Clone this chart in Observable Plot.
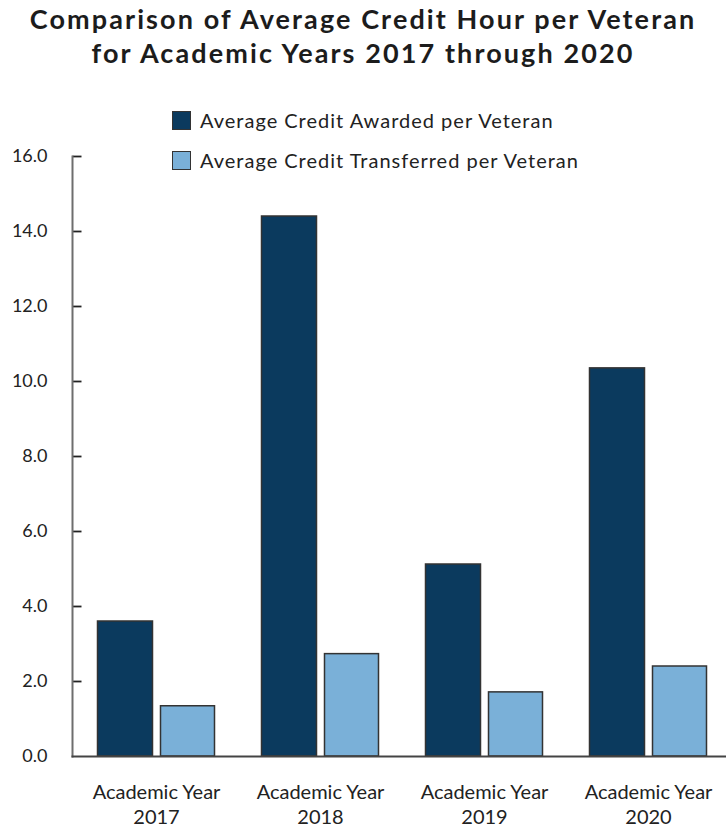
<!DOCTYPE html>
<html>
<head>
<meta charset="utf-8">
<script src="https://cdn.jsdelivr.net/npm/d3@7"></script>
<script src="https://cdn.jsdelivr.net/npm/@observablehq/plot@0.6"></script>
<style>
  html, body { margin: 0; padding: 0; background: #fff; }
  #wrap { position: relative; width: 726px; height: 829px; font-family: Lato, "Open Sans", sans-serif; }
  #title { position: absolute; top: 2px; left: 0; width: 726px; text-align: center; font-weight: bold; font-size: 27px; letter-spacing: 2.1px; line-height: 34px; color: #1c1c1c; }
  #legend { position: absolute; left: 172px; top: 110px; font-size: 20px; letter-spacing: 1px; color: #222; }
  .row { display: flex; align-items: center; height: 20px; margin-bottom: 20px; }
  .sw { width: 17px; height: 17px; border: 1.5px solid #333; margin-right: 9px; }
  #chart { position: absolute; left: 0; top: 80px; }
</style>
</head>
<body>
<div id="wrap">
  <div id="title">Comparison of Average Credit Hour per Veteran<br>for Academic Years 2017 through 2020</div>
  <div id="legend"></div>
  <div id="chart"></div>
</div>
<script>
const years = ["2017", "2018", "2019", "2020"];
const awarded = [3.6, 14.4, 5.12, 10.35];
const transferred = [1.34, 2.73, 1.71, 2.4];
const seriesNames = ["Average Credit Awarded per Veteran", "Average Credit Transferred per Veteran"];
const seriesColors = ["#0b3a5e", "#7ab0d8"];
const yTicks = [0, 2, 4, 6, 8, 10, 12, 14, 16];

const table = years.map((y, i) => ({year: y, awarded: awarded[i], transferred: transferred[i]}));

const legend = document.getElementById("legend");
seriesNames.forEach((n, i) => {
  const r = document.createElement("div");
  r.className = "row";
  const s = document.createElement("div");
  s.className = "sw";
  s.style.background = seriesColors[i];
  const t = document.createElement("span");
  t.textContent = n;
  r.appendChild(s); r.appendChild(t);
  legend.appendChild(r);
});

const chart = Plot.plot({
  width: 726,
  height: 749,
  marginTop: 76,
  marginBottom: 73,
  marginLeft: 72,
  marginRight: 0,
  style: {fontFamily: "Lato, sans-serif", color: "#222", background: "transparent"},
  x: {domain: years, range: [73.5, 729.5], padding: 0, label: null},
  y: {domain: [0, 16], label: null},
  marks: [
    Plot.barY(table, {x: "year", y: "awarded", fill: seriesColors[0], stroke: "#333", strokeWidth: 1.5, insetLeft: 23.5, insetRight: 85.5}),
    Plot.barY(table, {x: "year", y: "transferred", fill: seriesColors[1], stroke: "#333", strokeWidth: 1.5, insetLeft: 86.5, insetRight: 23.5}),
    Plot.tickY(yTicks.slice(1), {y: d => d, x: () => years[0], stroke: "#222", strokeWidth: 1.8, insetRight: 155, dx: -1.5}),
    Plot.frame({anchor: "left", stroke: "#6e6e6e", strokeWidth: 2}),
    Plot.frame({anchor: "bottom", stroke: "#444", strokeWidth: 2}),
    Plot.axisY({ticks: yTicks, tickFormat: d3.format(".1f"), tickSize: 0, tickPadding: 25, fontSize: 18, label: null}),
    Plot.axisX({tickSize: 0, tickPadding: 25, fontSize: 20, letterSpacing: 0.7, lineHeight: 1.25, label: null, tickFormat: d => "Academic Year\n" + d})
  ]
});
document.getElementById("chart").appendChild(chart);
</script>
</body>
</html>
